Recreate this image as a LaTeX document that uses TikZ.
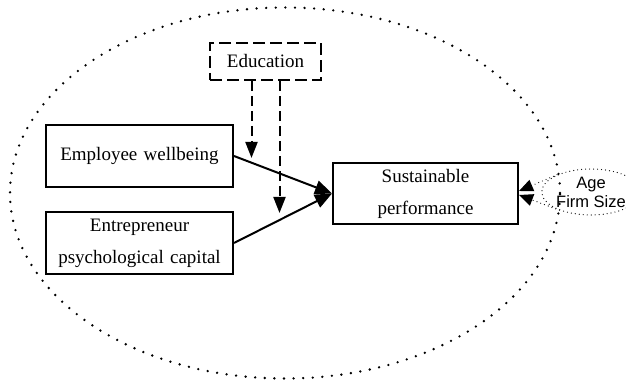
\documentclass[tikz,border=0pt]{standalone}
\usepackage{fontspec}
\setmainfont{Liberation Serif}
\setsansfont{Liberation Sans}
\usetikzlibrary{shapes.geometric, arrows.meta, positioning}
\tikzstyle{factor} = [rectangle, minimum width=187pt, minimum height=62pt, inner sep=0pt, text centered, text width = 180pt, draw = black, line width=2pt, font=\fontsize{19}{32}\selectfont]
\tikzstyle{moderator} = [rectangle, minimum width=111pt, minimum height=37pt, inner sep=0pt, text centered, draw = black, line width=2pt, dash pattern=on 12pt off 5pt, font=\fontsize{19}{32}\selectfont]
\tikzstyle{control} = [ellipse, minimum width=86pt, minimum height=46pt, inner sep=0pt, align=center, draw = black, line width=1.2pt, dash pattern=on 0pt off 4pt, line cap=round, font=\sffamily\fontsize{16.5}{19}\selectfont]
\tikzstyle{arrow} = [line width=2pt, -{Triangle[length=17pt,width=14pt]}]
\tikzstyle{modarrow} = [line width=2pt, dash pattern=on 10pt off 5pt, -{Triangle[length=16pt,width=12pt]}]
\tikzstyle{ctrlarrow} = [line width=1.2pt, dash pattern=on 0pt off 4pt, line cap=round, -{Triangle[length=14pt,width=12pt]}]
\tikzstyle{boundary} = [line width=2.6pt, dash pattern=on 0pt off 9.6pt, line cap=round]

\begin{document}
\begin{tikzpicture}[x=1pt, y=1pt, node distance = 23pt]
	\useasboundingbox (0,0) rectangle (626,380);

	% Model boundary - - - - - - - - - - - - - - - - - - - - - - - - - - - - -
	\draw[boundary] (285,187) ellipse [x radius=275, y radius=185.5];

	% Independent variables - - - - - - - - - - - - - - - - - - - - - - - - - -
	%Employee wellbeing
	\node(ew) [factor] at (139.5,224) {Employee wellbeing};
	%Entrepreneur psychological capital
	\node(epc) [factor, below= of ew]
		{Entrepreneur\\psychological capital
		};

	% Dependent variable - - - - - - - - - - - - - - - - - - - - - - - - - - -
	\node(sp) [factor, minimum width=185pt, minimum height=61pt] at (425.5,186.5)
		{Sustainable\\performance
		};

	% Moderator and controls - - - - - - - - - - - - - - - - - - - - - - - - -
	\node(edu) [moderator] at (265.5,318.5) {Education};
	\node(ctrl) [control] at (591,188) {Age\\Firm Size};

	\coordinate (m1) at (251.5,222);
	\coordinate (m2) at (279.5,167);

	% Arrows - - - - - - - - - - - - - - - - - - - - - - - - - - - - - - - - -
	\draw[arrow](ew.east)--(sp.west);
	\draw[arrow](epc.east)--(sp.west);
	\draw[modarrow]([xshift=-14pt]edu.south)--(m1);
	\draw[modarrow]([xshift=14pt]edu.south)--(m2);
	\draw[ctrlarrow](ctrl.153)--([yshift=2.5pt]sp.east);
	\draw[ctrlarrow](ctrl.210)--([yshift=-1.5pt]sp.east);

\end{tikzpicture}
\end{document}
